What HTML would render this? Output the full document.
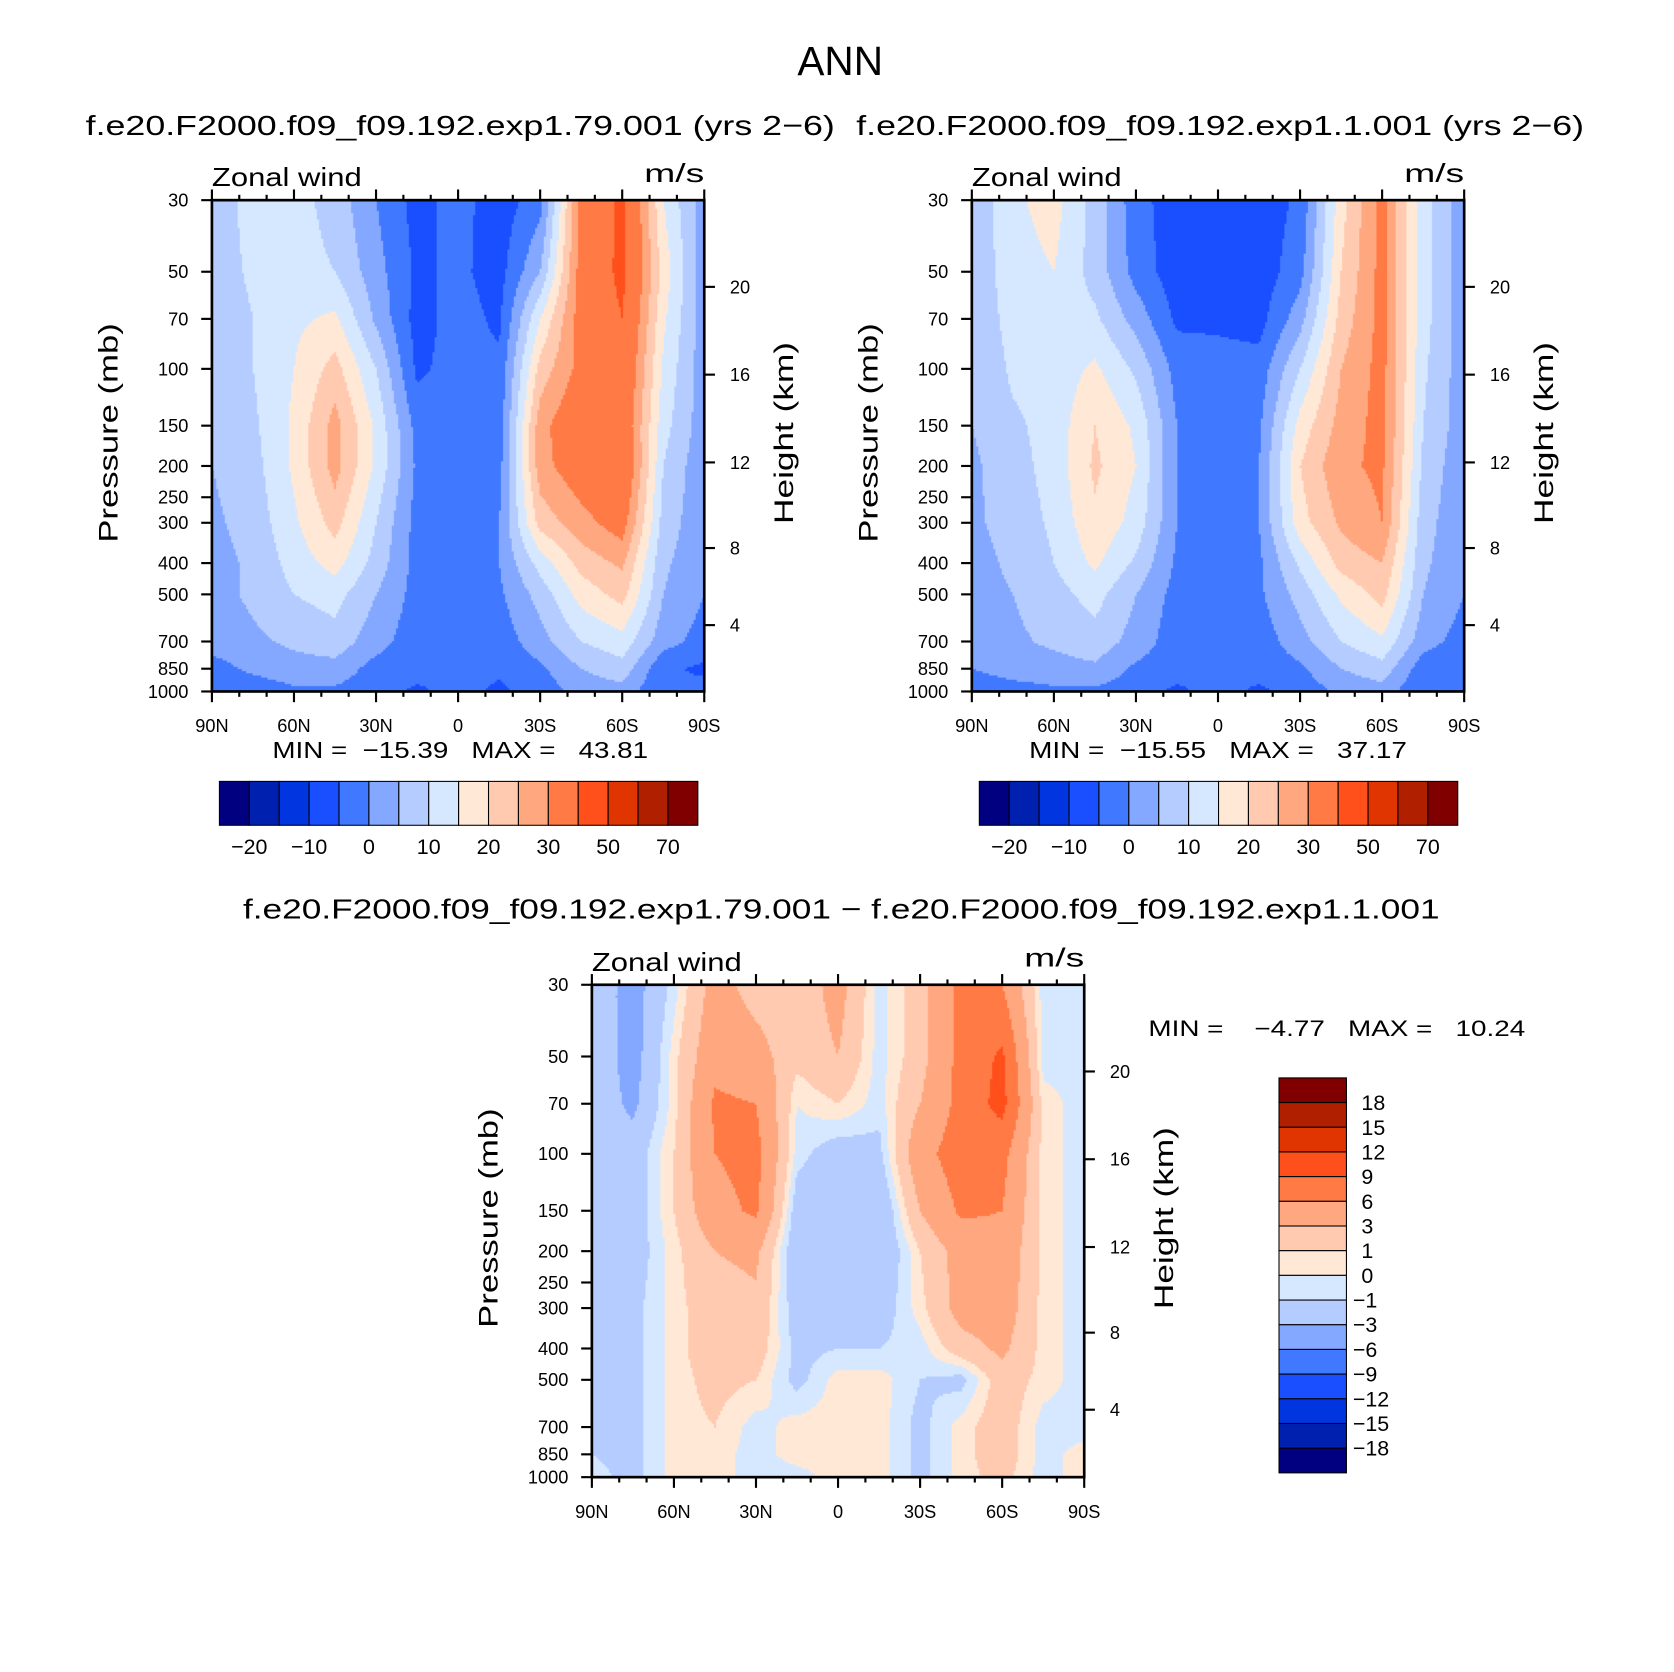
<!DOCTYPE html>
<html><head><meta charset="utf-8"><style>
html,body{margin:0;padding:0;background:#fff;overflow:hidden}
#wrap{position:absolute;left:0;top:0;width:1564px;height:1562px;transform:scale(1.0703,1.0704);transform-origin:0 0}
canvas{position:absolute}
svg{position:absolute;left:0;top:0}
text{font-family:"Liberation Sans",sans-serif;fill:#000;white-space:pre}
</style></head><body>
<div id="wrap">
<canvas id="c1" width="460" height="459" style="left:198px;top:187px"></canvas>
<canvas id="c2" width="460" height="459" style="left:908px;top:187px"></canvas>
<canvas id="c3" width="460" height="460" style="left:553px;top:920px"></canvas>
<svg id="s" width="1564" height="1562" viewBox="0 0 1564 1562"></svg>
</div>
<script>
const lats=[90,75,60,45,30,15,0,-15,-30,-45,-60,-75,-90];
const plevs=[30,50,70,100,150,200,300,400,500,700,850,1000];
const p1Vals=[
[7,12,12,8,0,-7,-3,-8,-2,32,42,15,2],
[7,11,12,10,2,-6,-4,-7,5,33,42,18,2],
[6,10,14,16,4,-7,-3,-6,15,33,40,16,2],
[6,10,15,22,10,-6,-3,-4,22,32,38,14,2],
[5,9,16,27,14,-2,-3,-3,28,36,36,12,2],
[5,8,16,27,14,-1,-3,-2,28,34,38,10,1],
[4,7,14,22,10,-2,-3,0,22,28,33,8,1],
[3,6,12,17,8,-2,-3,0,12,22,26,6,1],
[3,6,10,12,5,-2,-3,-1,7,17,22,5,0],
[2,4,6,8,2,-3,-3,-3,3,10,13,2,-2],
[-2,1,3,3,-2,-3,-4,-4,-1,5,8,-4,-6],
[-3,-3,-1,-1,-3,-6,-3,-6,-3,2,3,-5,-3]];
const p2Vals=[
[6,14,17,8,-3,-8,-8,-8,-4,18,32,12,2],
[6,13,15,8,-2,-8,-7,-8,-2,20,32,12,2],
[6,12,12,11,3,-6,-6,-7,3,22,32,12,2],
[5,11,12,16,9,-2,-3,-3,10,25,32,11,2],
[5,9,12,20,14,0,-3,-1,17,27,32,10,2],
[4,8,12,21,15,0,-3,0,20,29,31,9,1],
[4,7,11,19,13,0,-3,0,18,26,30,7,1],
[3,6,10,16,9,-1,-3,-1,11,22,25,6,1],
[3,5,8,12,5,-2,-3,-1,7,16,22,5,0],
[2,4,6,8,3,-3,-3,-3,3,10,14,2,-2],
[0,2,3,4,-1,-3,-4,-3,-1,5,8,-3,-5],
[-3,-2,-1,-1,-3,-6,-3,-6,-3,1,3,-5,-3]];
const diffVals=[
[-1.5,-4,-0.5,4,2,1.5,4,-0.5,2,7,6,-0.5,-0.5],
[-1.5,-4,0.5,5,4,1.5,3,-0.5,2,7,9.5,-0.5,-0.5],
[-1.5,-3.5,0.5,6.5,6,0,1,-0.5,3,7,10,0.5,-0.5],
[-2,-2,1,6,7,-0.5,-2,-1.5,5,7.5,7,0.5,-0.5],
[-2,-2,1,5,6.5,-2,-2.5,-3,3,6.5,6,0.5,-0.5],
[-2,-2,0.5,3,3.5,-2.5,-2.5,-3,1,4,5,0.5,-0.5],
[-2,-1.5,0.5,2,2.5,-2,-2,-2,0.5,4,4.5,0.5,-0.5],
[-2,-1.5,0.5,2,2,-1.5,-1,-1,-0.5,2,3.5,0.5,-0.5],
[-1.5,-1.5,0.5,1.5,1,-1.5,0.5,0.5,-1,-1.5,2,0.5,-0.5],
[-1,-1.5,0.5,1,-0.5,0.5,0.5,0.5,-1.5,0.5,2,-0.5,-0.5],
[-1,-1.5,0.5,0.5,-0.5,0.5,0.5,0.5,-1.5,0.5,2,-0.5,0.5],
[-0.5,-1.5,0.5,0.5,-0.5,-0.5,0.5,0.5,-1.5,0.5,1.5,-0.5,0.5]];
const levelsAbs=[-20,-15,-10,-5,0,5,10,15,20,25,30,40,50,60,70];
const levelsDiff=[-18,-15,-12,-9,-6,-3,-1,0,1,3,6,9,12,15,18];
const absLabels=["−20","−10","0","10","20","30","50","70"];
const diffLabels=["18","15","12","9","6","3","1","0","−1","−3","−6","−9","−12","−15","−18"];
const pTicks=[30,50,70,100,150,200,250,300,400,500,700,850,1000];
const latTickLabels=["90N","60N","30N","0","30S","60S","90S"];
const hTicks=[4,8,12,16,20];
const colors=["#000080","#0020b0","#0035e0","#1a4fff","#4078ff","#84a8ff","#b4ccff","#d6e8ff","#ffe8d6","#ffcab0","#ffa880","#ff7a45","#ff4f1a","#e03500","#b02000","#800000"];

const W=460;
function xOf(lat){return (90-lat)/180*W;}
function yOf(p,h){return Math.log(p/30)/Math.log(1000/30)*h;}
function colorIdx(v,lv){let i=0;while(i<lv.length&&v>=lv[i])i++;return i;}
function drawField(id,vals,lv){
  const c=document.getElementById(id),ctx=c.getContext('2d');const h=c.height;
  const ly=plevs.map(p=>yOf(p,h));
  for(let py=0;py<h;py+=2){
    let j=0;while(j<plevs.length-2&&py+1>ly[j+1])j++;
    let fy=(py+1-ly[j])/(ly[j+1]-ly[j]);fy=Math.max(0,Math.min(1,fy));
    for(let px=0;px<W;px+=2){
      const gx=(px+1)/W*(lats.length-1);let i=Math.min(lats.length-2,Math.floor(gx));const fx=gx-i;
      const v=(vals[j][i]*(1-fx)+vals[j][i+1]*fx)*(1-fy)+(vals[j+1][i]*(1-fx)+vals[j+1][i+1]*fx)*fy;
      ctx.fillStyle=colors[colorIdx(v,lv)];ctx.fillRect(px,py,2,2);
    }
  }
}
drawField('c1',p1Vals,levelsAbs);drawField('c2',p2Vals,levelsAbs);drawField('c3',diffVals,levelsDiff);

const S=document.getElementById('s'),NS='http://www.w3.org/2000/svg';
function el(tag,a,parent){const e=document.createElementNS(NS,tag);for(const k in a)e.setAttribute(k,a[k]);(parent||S).appendChild(e);return e;}
function txt(x,y,s,size,anchor,name,extra,len){const o=Object.assign({x:x,y:y,'font-size':size,'text-anchor':anchor||'middle'},extra||{});
if(len){o.textLength=len;o.lengthAdjust='spacingAndGlyphs';}
const t=el('text',o);t.textContent=s;


return t;}

txt(785,70,"ANN",38,'middle','main-title',null,80);
txt(430,126,"f.e20.F2000.f09_f09.192.exp1.79.001 (yrs 2−6)",26,'middle','panel-1-title',null,700);
txt(1140,126,"f.e20.F2000.f09_f09.192.exp1.1.001 (yrs 2−6)",26,'middle','panel-2-title',null,680);
txt(786,858,"f.e20.F2000.f09_f09.192.exp1.79.001 − f.e20.F2000.f09_f09.192.exp1.1.001",26,'middle','diff-title',null,1118);

function axes(ox,oy,h,pfx){
  const g=el('g',{});
  
  
  const fr=el('rect',{x:ox,y:oy,width:W,height:h,fill:'none',stroke:'#000','stroke-width':2.5},g);
  
  
  for(let lat=90;lat>=-90;lat-=10){
    const x=ox+xOf(lat),maj=lat%30===0,L=maj?10:5;
    el('line',{x1:x,y1:oy+h,x2:x,y2:oy+h+L,stroke:'#000','stroke-width':2},g);
    el('line',{x1:x,y1:oy,x2:x,y2:oy-L,stroke:'#000','stroke-width':2},g);
  }
  latTickLabels.forEach((s,k)=>{txt(ox+k*W/6,oy+h+38,s,17,'middle',pfx+'-lat-label');});
  pTicks.forEach(p=>{const y=oy+yOf(p,h);el('line',{x1:ox-10,y1:y,x2:ox,y2:y,stroke:'#000','stroke-width':2},g);
    txt(ox-22,y+6,String(p),17,'end',pfx+'-pressure-label');});
  const hoff=[397,325,245,163,81];
  hTicks.forEach((km,k)=>{const y=oy+hoff[k];el('line',{x1:ox+W,y1:y,x2:ox+W+10,y2:y,stroke:'#000','stroke-width':2},g);
    txt(ox+W+24,y+6,String(km),17,'start',pfx+'-height-label');});
  txt(ox,oy-13,"Zonal wind",24,'start',pfx+'-variable-label',null,140);
  txt(ox+W,oy-17,"m/s",24,'end',pfx+'-units-label',null,56);
  txt(0,0,"Pressure (mb)",25,'middle',pfx+'-y-axis-title',{transform:`translate(${ox-88},${oy+h/2-12}) rotate(-90)`},205);
  txt(0,0,"Height (km)",25,'middle',pfx+'-y2-axis-title',{transform:`translate(${ox+W+83},${oy+h/2-12}) rotate(-90)`},170);
}
axes(198,187,459,'panel-1');axes(908,187,459,'panel-2');axes(553,920,460,'diff');
txt(430,708,"MIN =  −15.39   MAX =   43.81",22,'middle','panel-1-minmax',null,351);
txt(1138,708,"MIN =  −15.55   MAX =   37.17",22,'middle','panel-2-minmax',null,353);
txt(1073,968,"MIN =    −4.77   MAX =   10.24",21,'start','diff-minmax',null,352);

function hbar(x0,y0,pfx){
  const bw=447/16;
  colors.forEach((c,i)=>{const r=el('rect',{x:x0+i*bw,y:y0,width:bw,height:41,fill:c,stroke:'#000','stroke-width':1});
    
    });
  absLabels.forEach((s,k)=>{txt(x0+bw*(1+2*k),y0+68,s,20,'middle',pfx+'-colorbar-label');});
}
hbar(205,730,'panel-1');hbar(915,730,'panel-2');
const vx=1195,vy=1007,vh=369/16;
colors.slice().reverse().forEach((c,i)=>{const r=el('rect',{x:vx,y:vy+i*vh,width:63,height:vh,fill:c,stroke:'#000','stroke-width':1});
  
  });
diffLabels.forEach((s,k)=>{txt(s.startsWith('−')?1264:1272,vy+vh*(k+1)+7,s,20,'start','diff-colorbar-label');});
</script>
</body></html>
